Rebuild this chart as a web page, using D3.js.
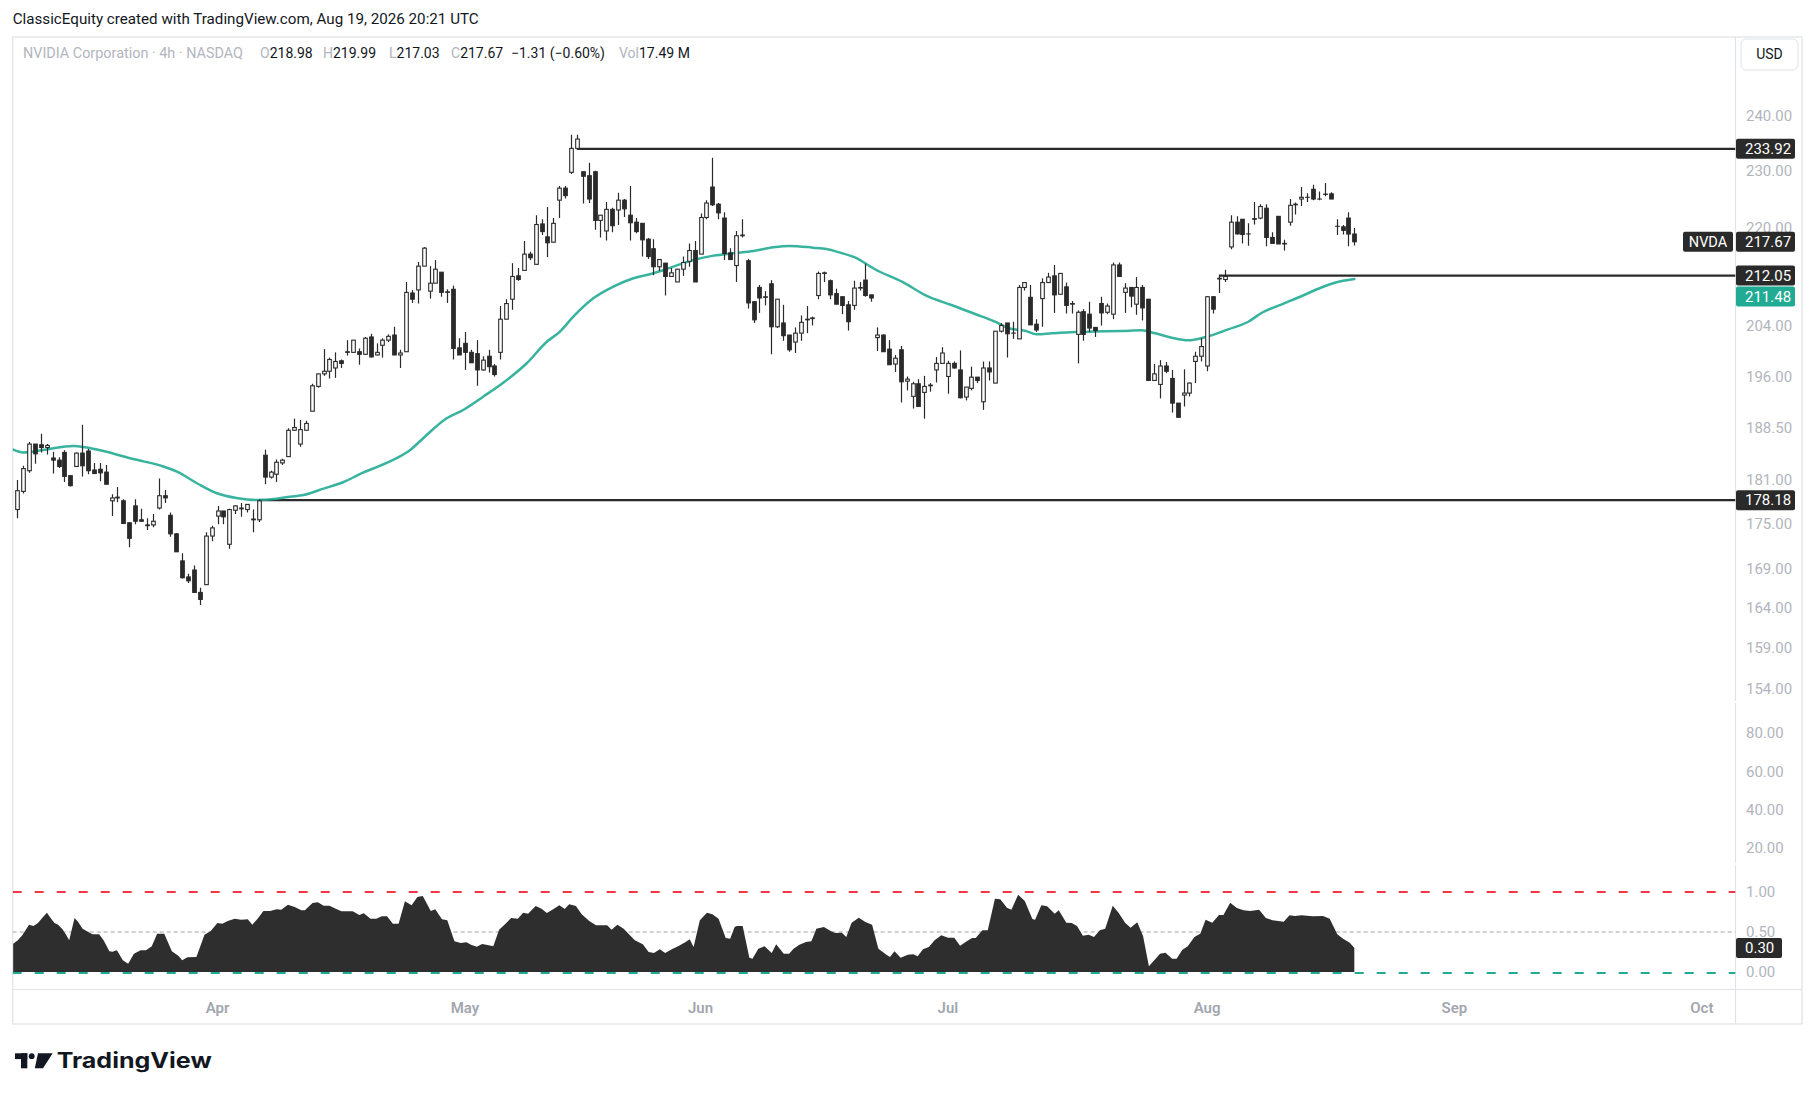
<!DOCTYPE html>
<html><head><meta charset="utf-8">
<script src="https://cdn.jsdelivr.net/npm/d3@7"></script>
<style>
body{margin:0;background:#ffffff;}
svg{display:block;font-family:Roboto,"Noto Sans",sans-serif;}
</style>
</head><body>
<svg id="chart" width="1814" height="1100"></svg>
<script>
// ---------------- DATA ----------------
const barOpen = [176.9,179.4,182.3,186.1,186.0,185.6,184.1,183.8,184.9,181.6,
182.9,184.8,185.1,182.4,182.5,182.1,178.1,178.5,178.1,175.1,
177.4,175.5,174.8,174.8,177.1,178.8,176.1,173.6,170.0,167.9,
168.8,165.9,166.9,173.3,176.0,176.7,172.2,176.8,177.0,176.9,
175.6,175.5,184.5,181.4,181.8,183.4,184.3,188.1,186.1,188.1,
190.9,194.6,196.5,196.9,197.4,198.5,199.8,199.8,199.9,199.5,
202.2,199.4,200.9,201.7,202.5,199.4,199.9,209.2,209.7,213.6,
209.5,210.8,212.6,209.3,209.8,200.5,201.2,199.8,199.6,197.1,
199.2,197.7,199.8,205.0,208.2,212.0,212.9,215.6,213.9,220.7,
218.5,217.6,224.8,226.9,229.7,234.0,229.8,229.1,229.8,221.3,
219.5,223.2,223.1,224.8,222.2,221.0,220.8,218.1,216.5,213.5,
214.1,211.9,211.0,213.1,214.4,216.2,215.6,221.8,227.1,224.1,
221.7,215.8,213.7,218.7,214.5,207.8,210.1,208.5,210.7,203.8,
204.4,202.5,201.4,202.8,204.9,205.1,208.8,212.4,211.2,209.1,
208.6,207.3,207.2,210.0,211.3,208.9,202.1,202.5,200.3,198.0,
200.2,195.4,193.1,195.0,193.7,194.8,197.1,198.1,196.1,198.1,
197.1,193.0,194.3,196.0,192.3,197.4,195.1,203.1,204.4,202.8,
201.9,210.1,208.5,204.2,208.3,210.9,212.0,209.0,210.2,207.4,
202.6,206.2,205.8,203.7,207.5,206.1,205.8,213.8,209.3,210.1,
207.4,210.1,208.2,195.5,194.9,197.7,195.8,192.1,193.3,193.6,
198.4,199.2,197.7,208.6,211.5,211.4,216.8,221.0,221.5,219.0,
221.6,221.7,223.4,218.4,222.0,217.3,221.0,224.0,225.0,225.3,
226.7,225.0,225.8,225.9,220.3,220.2,221.7,218.98];

const barHigh = [181.0,183.0,186.4,186.1,187.6,186.1,185.0,184.2,185.2,181.6,
184.9,188.9,185.4,183.4,183.4,183.1,179.0,180.0,178.3,175.1,
178.3,177.0,175.7,176.3,181.2,179.6,176.5,173.7,171.0,168.3,
169.4,166.5,173.8,174.7,177.4,176.7,177.0,177.5,177.8,177.6,
176.9,178.3,185.3,182.3,183.9,184.0,188.4,189.8,189.6,189.5,
195.0,196.5,200.3,199.0,199.8,198.7,201.7,201.7,200.4,202.2,
202.7,201.2,202.0,202.6,203.8,200.2,211.0,209.7,214.3,216.8,
213.6,214.6,212.6,209.8,210.4,202.0,203.0,200.2,201.7,199.2,
200.2,198.0,207.1,208.2,214.1,213.3,217.8,216.0,222.2,221.5,
223.6,221.7,227.3,227.3,236.5,236.5,229.8,231.4,230.0,222.2,
224.5,223.5,226.1,225.0,227.3,221.7,220.8,218.3,218.1,214.7,
214.1,213.3,213.1,215.2,217.4,217.8,222.5,224.8,232.3,224.3,
222.7,216.6,219.5,221.5,214.8,207.8,210.5,209.5,211.3,208.2,
207.3,202.5,203.7,205.6,207.1,205.4,212.7,212.7,211.4,209.9,
208.6,207.9,211.2,211.0,214.0,208.9,203.7,202.6,201.7,199.4,
200.8,196.1,195.3,195.7,196.2,195.1,199.1,200.6,198.5,198.4,
200.1,194.5,197.6,196.0,198.4,198.4,203.1,204.4,204.4,204.6,
210.5,210.9,210.5,205.0,211.6,212.5,213.8,212.4,210.9,207.9,
206.4,206.6,207.8,203.7,208.6,207.5,214.2,214.2,210.8,210.1,
211.8,210.5,208.2,198.0,198.6,198.3,197.1,192.1,197.2,195.2,
199.9,202.0,208.7,208.7,212.0,213.0,222.2,222.0,221.5,220.8,
224.5,224.1,224.1,219.3,222.0,218.0,225.0,224.4,227.1,226.0,
227.5,226.3,227.8,226.2,221.5,220.5,222.7,219.99];

const barLow = [175.7,179.1,182.0,183.3,184.9,184.6,181.9,182.7,180.7,180.1,
182.9,181.5,181.8,181.9,180.8,180.4,176.0,177.9,175.0,171.8,
174.9,175.3,174.1,174.5,176.9,177.8,173.2,171.2,167.7,167.1,
165.9,164.3,166.9,172.6,174.9,174.9,171.6,176.3,175.9,176.5,
173.8,175.2,180.4,181.2,180.7,183.1,184.3,188.0,185.7,188.1,
190.9,194.4,196.2,195.8,195.9,197.4,199.3,199.8,197.9,199.4,
199.0,199.35,199.0,201.4,199.4,197.4,199.9,207.6,207.5,213.6,
208.3,210.8,208.6,207.6,198.7,199.4,197.1,198.2,194.7,197.0,
196.7,196.1,198.7,205.0,206.5,211.2,212.9,214.6,213.9,218.8,
215.1,217.6,221.7,225.1,229.4,234.0,224.2,224.3,219.7,218.4,
217.9,219.3,220.5,221.9,217.9,219.1,215.2,214.8,212.1,212.8,
208.8,211.9,211.0,212.0,213.5,211.0,215.6,221.5,223.8,221.5,
214.6,214.7,211.0,218.4,206.7,204.4,206.0,207.2,199.5,203.6,
201.6,199.9,199.7,201.6,202.8,204.0,208.2,211.0,208.2,207.4,
205.8,203.2,206.5,209.6,208.6,207.8,200.0,199.9,197.9,196.8,
192.2,194.0,191.3,191.6,189.8,193.8,195.2,198.1,193.5,197.3,
192.8,192.5,194.0,195.1,191.1,195.5,195.1,202.9,199.0,201.9,
201.9,209.6,204.1,203.0,203.8,210.9,206.0,209.0,205.9,205.9,
198.1,201.6,203.0,202.2,204.0,205.8,205.0,211.9,206.0,206.9,
205.7,204.8,195.5,195.5,192.8,196.6,190.7,190.0,191.6,193.1,
195.1,198.4,196.9,205.9,209.2,211.0,216.4,218.9,217.4,217.0,
220.6,221.5,216.9,217.4,217.3,216.2,220.4,222.3,223.8,224.5,
224.8,224.8,225.5,225.0,218.8,218.9,216.9,217.03];

const barClose = [179.5,182.6,186.1,184.7,185.6,185.9,183.8,182.9,181.5,180.2,
184.8,183.0,182.3,181.9,182.0,180.4,178.5,178.6,175.0,173.0,
175.3,175.3,174.7,175.3,178.8,178.5,173.6,171.2,167.8,167.4,
165.9,165.0,173.3,174.4,176.7,175.9,176.9,177.4,177.1,177.6,
175.5,178.1,181.4,182.1,183.5,183.8,188.1,188.5,188.2,189.1,
194.7,196.5,196.9,198.7,198.4,198.1,199.9,201.7,199.5,202.0,
199.1,199.8,201.7,202.3,199.4,199.7,209.3,208.2,213.6,216.6,
210.8,213.1,209.3,209.4,200.4,199.4,199.8,198.2,197.1,198.6,
197.6,196.4,205.0,207.5,211.9,211.4,215.6,215.0,220.6,219.4,
217.5,220.8,226.9,225.6,234.0,235.7,229.0,225.0,221.3,222.2,
223.2,220.4,224.8,223.3,220.9,219.4,218.0,215.2,213.5,214.7,
211.9,212.5,213.1,214.2,216.2,211.0,221.8,224.3,224.0,222.6,
215.7,214.7,218.7,218.8,207.6,204.9,208.4,208.6,203.8,208.2,
202.4,200.2,202.8,204.5,205.0,205.2,212.4,212.5,208.9,207.4,
207.2,204.6,210.0,210.1,208.8,208.4,202.5,199.9,197.9,198.9,
195.3,195.7,195.0,191.6,194.6,194.7,198.1,199.7,198.1,197.4,
192.9,194.5,196.0,195.5,197.4,196.8,203.1,204.0,202.7,202.8,
210.1,210.9,204.1,203.3,210.9,211.8,208.9,212.4,207.2,207.5,
206.1,202.6,203.6,203.2,206.0,207.1,213.8,211.9,210.0,208.7,
210.1,206.8,195.5,196.5,197.7,196.9,192.1,190.0,193.6,195.1,
199.2,200.7,208.6,206.6,211.6,211.9,221.0,219.0,218.9,219.0,
221.5,223.7,218.4,217.4,217.3,217.4,223.9,224.1,225.3,225.3,
225.0,225.0,225.85,225.0,220.3,219.6,218.98,217.67];

// moving average: [bar index, value]
const maLine = [[-0.7,185.3],[1,184.9],[4.4,185.25],[9.5,185.83],[11.8,185.6],[14.6,185.1],[19.7,183.95],
[24.8,182.9],[27.1,182.17],[30.5,180.54],[33.9,179.14],[37.2,178.48],[40.6,178.2],[44,178.38],[46.3,178.66],
[48.6,178.9],[52,179.78],[55.3,180.68],[58.7,182.03],[61.6,183.01],[64.9,184.29],[66.7,185.25],[69,187.02],
[72.9,189.85],[75.7,191.08],[79.1,193.06],[82.5,195.16],[86.5,198.12],[89.9,201.45],[92.1,203.0],[94.4,205.4],
[97.8,208.34],[101.2,210.24],[104.6,211.6],[108,212.43],[111.4,213.53],[114.8,214.62],[118.2,215.35],
[121.6,215.75],[125,216.13],[128.4,216.75],[131.2,216.97],[135.1,216.68],[137.4,216.46],[139.7,215.85],
[142.2,215.06],[145.6,213.09],[150.2,211.04],[154.7,208.6],[158.6,207.27],[162.6,205.83],[166,204.6],
[168.3,203.56],[171.1,203.18],[173.1,202.61],[175.6,202.77],[179.6,202.98],[183,203.05],[187.5,203.13],
[190.9,203.24],[193.2,202.77],[196,202.08],[198.8,201.67],[201.6,202.14],[205.6,203.4],[209,204.6],
[211.3,206.03],[214.7,207.38],[218.1,208.72],[221.5,210.14],[223.7,210.88],[227,211.48]];

// lower oscillator pane: [bar index, value]
const oscSeries = [[-0.7,0.354],[0.09,0.396],[0.85,0.458],[1.99,0.592],[2.75,0.575],[3.51,0.613],[4.26,0.679],
[5.02,0.742],[5.63,0.679],[6.31,0.613],[6.92,0.592],[7.67,0.533],[8.28,0.467],[8.81,0.396],[9.72,0.675],
[10.33,0.625],[11.08,0.542],[11.84,0.508],[12.75,0.471],[13.89,0.471],[14.65,0.396],[15.63,0.258],[16.16,0.254],
[16.92,0.271],[17.91,0.146],[18.82,0.104],[19.8,0.229],[20.94,0.271],[21.85,0.271],[22.83,0.321],[23.74,0.479],
[24.95,0.479],[26.24,0.258],[27.38,0.2],[27.99,0.146],[28.89,0.183],[30.41,0.188],[31.78,0.467],[32.84,0.513],
[33.97,0.613],[34.81,0.604],[35.72,0.638],[36.93,0.667],[37.99,0.654],[39.13,0.658],[39.89,0.592],[40.8,0.667],
[41.78,0.763],[42.92,0.763],[44.05,0.783],[44.81,0.779],[45.95,0.842],[47.09,0.813],[48.22,0.771],[48.83,0.771],
[50.12,0.863],[51.03,0.871],[52.01,0.829],[53.0,0.829],[54.06,0.792],[55.04,0.758],[56.94,0.758],[58.07,0.713],
[58.83,0.733],[59.97,0.667],[60.95,0.667],[61.87,0.696],[62.78,0.696],[63.76,0.604],[64.74,0.604],[65.81,0.883],
[66.94,0.833],[67.93,0.938],[68.84,0.95],[70.2,0.763],[70.96,0.783],[72.1,0.658],[73.0,0.646],[74.22,0.383],
[75.28,0.363],[76.26,0.371],[77.02,0.342],[78.01,0.317],[78.92,0.35],[79.83,0.338],[80.81,0.321],[81.8,0.529],
[82.71,0.592],[83.85,0.675],[84.98,0.667],[85.89,0.742],[86.72,0.729],[88.01,0.825],[89.0,0.792],[89.91,0.738],
[91.05,0.788],[92.03,0.833],[92.94,0.788],[93.7,0.846],[94.84,0.825],[95.82,0.721],[97.11,0.638],[98.25,0.583],
[100.14,0.583],[100.9,0.529],[101.88,0.592],[102.95,0.542],[103.93,0.467],[104.84,0.396],[106.2,0.346],
[107.19,0.25],[108.1,0.238],[109.08,0.283],[109.99,0.238],[111.13,0.283],[112.27,0.325],[113.4,0.371],
[114.16,0.408],[114.82,0.313],[115.88,0.646],[117.09,0.742],[118.0,0.721],[119.06,0.667],[120.27,0.425],
[121.03,0.417],[121.79,0.563],[122.17,0.575],[123.15,0.575],[124.29,0.179],[124.82,0.167],[125.81,0.292],
[126.87,0.321],[128.08,0.238],[128.84,0.346],[130.13,0.229],[131.04,0.229],[131.79,0.292],[132.78,0.342],
[133.92,0.375],[134.83,0.383],[135.66,0.542],[136.95,0.563],[138.08,0.513],[138.84,0.488],[139.98,0.492],
[140.74,0.438],[141.65,0.617],[142.86,0.679],[143.99,0.625],[145.13,0.592],[146.19,0.292],[147.56,0.217],
[148.16,0.188],[148.92,0.258],[149.98,0.179],[151.2,0.217],[152.11,0.221],[152.86,0.196],[153.77,0.283],
[154.76,0.313],[155.74,0.396],[156.88,0.458],[158.02,0.429],[159.08,0.429],[160.06,0.329],[161.2,0.383],
[162.11,0.425],[162.72,0.425],[163.85,0.521],[164.76,0.521],[165.98,0.917],[166.89,0.908],[168.02,0.804],
[168.78,0.779],[169.92,0.967],[171.05,0.888],[172.34,0.663],[172.8,0.654],[173.86,0.833],[174.84,0.821],
[176.13,0.729],[176.81,0.771],[178.1,0.617],[179.01,0.613],[179.92,0.575],[180.91,0.454],[181.89,0.467],
[182.8,0.438],[183.79,0.521],[184.7,0.542],[185.98,0.829],[186.97,0.742],[188.11,0.613],[189.02,0.554],
[190.15,0.621],[191.14,0.446],[192.12,0.071],[193.03,0.146],[194.02,0.229],[194.93,0.242],[196.06,0.167],
[196.82,0.167],[197.81,0.279],[198.72,0.321],[199.85,0.438],[200.84,0.479],[201.75,0.654],[202.88,0.617],
[204.02,0.713],[204.78,0.713],[205.92,0.867],[207.05,0.8],[208.19,0.771],[209.33,0.763],[210.84,0.779],
[211.98,0.675],[213.12,0.646],[215.01,0.629],[216.0,0.708],[216.91,0.7],[218.04,0.708],[219.94,0.696],
[221.68,0.7],[222.82,0.667],[224.1,0.471],[225.09,0.417],[226.23,0.367],[227,0.30]];

const priceTicks = [240,230,220,204,196,188.5,181,175,169,164,159,154];
const paneTicks = [80,60,40,20];
const oscTicks = [1,0.5,0];
const oscLevels = [1,0.5,0];
const monthBars = [34,76,116,158,202,244,286];
const monthLabels = ["Apr","May","Jun","Jul","Aug","Sep","Oct"];
const levelPrices = [233.92,212.05,178.18];
const levelStartBars = [95,204,41];
const maLast = 211.48;
const symbolName = "NVDA";
const legendTitle = "NVIDIA Corporation · 4h · NASDAQ";
const volumeText = "17.49 M";
const headerText = "ClassicEquity created with TradingView.com, Aug 19, 2026 20:21 UTC";

// ---------------- LAYOUT ----------------
const frame = {left:12.7, right:1802, top:37, bottom:1024};
const axisX = 1735.5;
const mainBottom = 702, paneBottom = 864, oscBottom = 989.5;
const DARK = "#2a2a2a", GREY = "#b2b5be", TEAL = "#22ab94", RED = "#f23645", INK = "#131722";

const svg = d3.select("#chart");
const x = d3.scaleLinear().domain([0, 286]).range([17.3, 17.3 + 286*5.89]);
const y = d3.scaleLog().domain([154, 240]).range([688.5, 115.7]);
const yPane = d3.scaleLinear().domain([20, 80]).range([848, 733]);
const yOsc = d3.scaleLinear().domain([0, 1]).range([972, 892]);

const defs = svg.append("defs");
defs.append("clipPath").attr("id","clipMain").append("rect")
  .attr("x",frame.left).attr("y",frame.top).attr("width",axisX-frame.left).attr("height",mainBottom-frame.top);
defs.append("clipPath").attr("id","clipOsc").append("rect")
  .attr("x",frame.left).attr("y",paneBottom).attr("width",axisX-frame.left).attr("height",oscBottom-paneBottom);

// header
svg.append("text").attr("x",12.7).attr("y",24).attr("font-size",14.5).attr("fill",INK)
  .attr("textLength",466).attr("lengthAdjust","spacingAndGlyphs").text(headerText);

// frame
svg.append("rect").attr("x",frame.left).attr("y",frame.top).attr("width",frame.right-frame.left)
  .attr("height",frame.bottom-frame.top).attr("fill","none").attr("stroke","#e6e7ea").attr("stroke-width",1.5);
svg.append("line").attr("x1",axisX).attr("x2",axisX).attr("y1",frame.top).attr("y2",frame.bottom)
  .attr("stroke","#e0e3eb").attr("stroke-width",1.2);
svg.append("line").attr("x1",frame.left).attr("x2",frame.right).attr("y1",oscBottom).attr("y2",oscBottom)
  .attr("stroke","#e0e3eb").attr("stroke-width",1.2);
[mainBottom, paneBottom].forEach(py => {
  svg.append("rect").attr("x",axisX-1).attr("y",py-1).attr("width",2).attr("height",2).attr("fill","#fff");
});

// ---------------- MAIN PANE ----------------
const main = svg.append("g").attr("clip-path","url(#clipMain)");
const bars = d3.range(barOpen.length).map(i => ({i, o:barOpen[i], h:barHigh[i], l:barLow[i], c:barClose[i]}));

levelPrices.forEach((p, k) => {
  main.append("line").attr("x1",x(levelStartBars[k])).attr("x2",axisX)
    .attr("y1",y(p)).attr("y2",y(p)).attr("stroke",DARK).attr("stroke-width",2.2);
});

main.append("path").datum(maLine)
  .attr("d", d3.line().x(d=>x(d[0])).y(d=>y(d[1])).curve(d3.curveMonotoneX))
  .attr("fill","none").attr("stroke",TEAL).attr("stroke-width",2.5).attr("stroke-opacity",0.9)
  .attr("stroke-linecap","round");

const cx = d => Math.round(x(d.i)) + 0.5;
main.append("g").selectAll("line").data(bars).join("line")
  .attr("x1",cx).attr("x2",cx).attr("y1",d=>y(d.h)).attr("y2",d=>y(d.l))
  .attr("stroke",DARK).attr("stroke-width",1.2);
main.append("g").selectAll("rect").data(bars).join("rect")
  .attr("x",d=>cx(d)-1.8).attr("width",3.6)
  .attr("y",d=>Math.min(y(d.o),y(d.c)))
  .attr("height",d=>Math.max(Math.abs(y(d.o)-y(d.c)),0.01))
  .attr("fill",d=>d.c>=d.o ? "#ffffff" : DARK)
  .attr("stroke",DARK).attr("stroke-width",1.1);

// ---------------- OSC PANE ----------------
const osc = svg.append("g").attr("clip-path","url(#clipOsc)");
osc.append("line").attr("x1",frame.left).attr("x2",axisX).attr("y1",yOsc(oscLevels[1])).attr("y2",yOsc(oscLevels[1]))
  .attr("stroke","#a3a3a3").attr("stroke-width",1).attr("stroke-dasharray","4 3");
osc.append("path").datum(oscSeries)
  .attr("d", d3.area().x(d=>x(d[0])).y0(yOsc(0)).y1(d=>yOsc(d[1])))
  .attr("fill","#2e2e2e");
osc.append("line").attr("x1",frame.left).attr("x2",axisX).attr("y1",yOsc(oscLevels[0])).attr("y2",yOsc(oscLevels[0]))
  .attr("stroke",RED).attr("stroke-width",2).attr("stroke-dasharray","9 13");
osc.append("line").attr("x1",frame.left).attr("x2",axisX).attr("y1",yOsc(oscLevels[2])+1).attr("y2",yOsc(oscLevels[2])+1)
  .attr("stroke",TEAL).attr("stroke-width",2).attr("stroke-dasharray","9 13");

// ---------------- AXES ----------------
const fmt = d3.format(".2f");
const tickX = 1746;
svg.append("g").selectAll("text").data(priceTicks).join("text")
  .attr("x",tickX).attr("y",d=>y(d)).attr("dy","0.35em").attr("font-size",15).attr("fill",GREY)
  .text(d=>fmt(d));
svg.append("g").selectAll("text").data(paneTicks).join("text")
  .attr("x",tickX).attr("y",d=>yPane(d)).attr("dy","0.35em").attr("font-size",15).attr("fill",GREY)
  .text(d=>fmt(d));
svg.append("g").selectAll("text").data(oscTicks).join("text")
  .attr("x",tickX).attr("y",d=>yOsc(d)).attr("dy","0.35em").attr("font-size",15).attr("fill",GREY)
  .text(d=>fmt(d));

svg.append("g").selectAll("text").data(monthBars).join("text")
  .attr("x",d=>x(d)).attr("y",1008).attr("dy","0.35em").attr("text-anchor","middle")
  .attr("font-size",15).attr("font-weight",600).attr("fill","#a3a6af")
  .text((d,i)=>monthLabels[i]);

svg.append("rect").attr("x",1741).attr("y",39).attr("width",57).attr("height",31).attr("rx",5)
  .attr("fill","#fff").attr("stroke","#e0e3eb");
svg.append("text").attr("x",1769.5).attr("y",54.5).attr("dy","0.35em").attr("text-anchor","middle")
  .attr("font-size",14).attr("fill",INK).text("USD");

function axisLabel(cy, txt, bg, w){
  svg.append("rect").attr("x",axisX+0.5).attr("y",cy-10).attr("width",w).attr("height",20).attr("rx",2).attr("fill",bg);
  svg.append("text").attr("x",tickX-1).attr("y",cy).attr("dy","0.35em").attr("font-size",15)
    .attr("fill","#fff").text(txt);
}
const last = barClose.length - 1;
levelPrices.forEach(p => axisLabel(y(p), fmt(p), DARK, 59));
axisLabel(y(barClose[last]), fmt(barClose[last]), DARK, 59);
axisLabel(Math.max(y(maLast), y(levelPrices[1]) + 21), fmt(maLast), TEAL, 59);
axisLabel(yOsc(oscSeries[oscSeries.length-1][1]), fmt(oscSeries[oscSeries.length-1][1]), DARK, 46);
svg.append("rect").attr("x",1683).attr("y",y(barClose[last])-10).attr("width",50).attr("height",20).attr("rx",2).attr("fill",DARK);
svg.append("text").attr("x",1708).attr("y",y(barClose[last])).attr("dy","0.35em").attr("text-anchor","middle")
  .attr("font-size",14.5).attr("fill","#fff").text(symbolName);

// ---------------- LEGEND ----------------
const chg = barClose[last] - barClose[last-1];
const pct = chg / barClose[last-1] * 100;
const signed = v => (v < 0 ? "\u2212" : "+") + fmt(Math.abs(v));
const legend = [
  {x:23, parts:[[legendTitle, GREY]], w:220},
  {x:260, parts:[["O", GREY],[fmt(barOpen[last]), INK]]},
  {x:323, parts:[["H", GREY],[fmt(barHigh[last]), INK]]},
  {x:389, parts:[["L", GREY],[fmt(barLow[last]), INK]]},
  {x:451, parts:[["C", GREY],[fmt(barClose[last]), INK]]},
  {x:511, parts:[[`${signed(chg)} (${signed(pct)}%)`, INK]]},
  {x:619, parts:[["Vol", GREY],[volumeText, INK]]}
];
legend.forEach(g => {
  const t = svg.append("text").attr("x",g.x).attr("y",53).attr("dy","0.35em").attr("font-size",14);
  g.parts.forEach(p => t.append("tspan").attr("fill",p[1]).text(p[0]));
  if (g.w) t.attr("textLength",g.w).attr("lengthAdjust","spacingAndGlyphs");
});

// ---------------- LOGO ----------------
const logo = svg.append("g").attr("fill",INK);
logo.append("rect").attr("x",15).attr("y",1053.3).attr("width",12.3).attr("height",5.8);
logo.append("rect").attr("x",21).attr("y",1053.3).attr("width",6.3).attr("height",15);
logo.append("circle").attr("cx",31.7).attr("cy",1056.2).attr("r",2.9);
logo.append("polygon").attr("points","38,1053.3 52.7,1053.3 43,1068.3 34.8,1068.3");
svg.append("text").attr("x",56.7).attr("y",1068.3).attr("font-family","Inter, Roboto, sans-serif")
  .attr("font-weight",700).attr("font-size",21).attr("fill",INK)
  .attr("textLength",155).attr("lengthAdjust","spacingAndGlyphs").text("TradingView");
</script>
</body></html>
